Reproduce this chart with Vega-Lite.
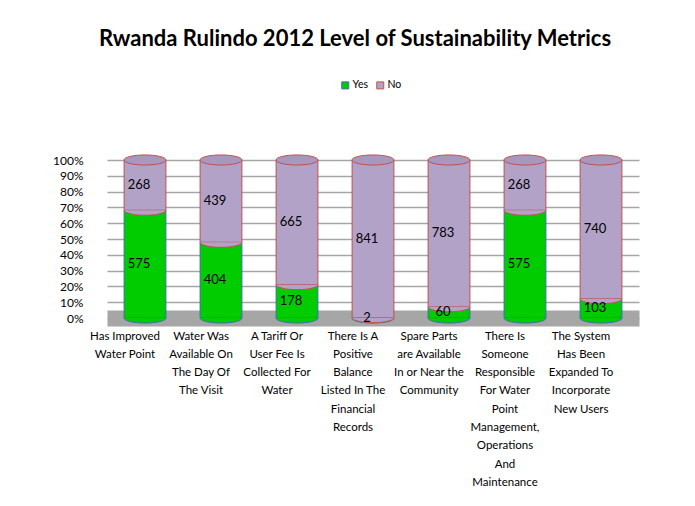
{
  "$schema": "https://vega.github.io/schema/vega-lite/v6.json",
  "width": 532,
  "height": 158,
  "autosize": "none",
  "padding": {"left": 107, "top": 160, "right": 56, "bottom": 188},
  "background": "white",
  "title": {
    "text": "Rwanda Rulindo 2012 Level of Sustainability  Metrics",
    "font": "Lato",
    "fontSize": 22,
    "fontWeight": "bold",
    "color": "#000000",
    "anchor": "middle",
    "dx": -18,
    "offset": 29
  },
  "data": {
    "values": [
      {"metric": "Has Improved|Water Point", "series": "Yes", "count": 575},
      {"metric": "Has Improved|Water Point", "series": "No", "count": 268},
      {"metric": "Water Was|Available On|The Day Of|The Visit", "series": "Yes", "count": 404},
      {"metric": "Water Was|Available On|The Day Of|The Visit", "series": "No", "count": 439},
      {"metric": "A Tariff Or|User Fee Is|Collected For|Water", "series": "Yes", "count": 178},
      {"metric": "A Tariff Or|User Fee Is|Collected For|Water", "series": "No", "count": 665},
      {"metric": "There Is A|Positive|Balance|Listed In The|Financial|Records", "series": "Yes", "count": 2},
      {"metric": "There Is A|Positive|Balance|Listed In The|Financial|Records", "series": "No", "count": 841},
      {"metric": "Spare Parts|are Available|In or Near the|Community", "series": "Yes", "count": 60},
      {"metric": "Spare Parts|are Available|In or Near the|Community", "series": "No", "count": 783},
      {"metric": "There Is|Someone|Responsible|For Water|Point|Management,|Operations|And|Maintenance", "series": "Yes", "count": 575},
      {"metric": "There Is|Someone|Responsible|For Water|Point|Management,|Operations|And|Maintenance", "series": "No", "count": 268},
      {"metric": "The System|Has Been|Expanded To|Incorporate|New Users", "series": "Yes", "count": 103},
      {"metric": "The System|Has Been|Expanded To|Incorporate|New Users", "series": "No", "count": 740}
    ]
  },
  "transform": [
    {"stack": "count", "groupby": ["metric"], "sort": [{"field": "series", "order": "descending"}], "offset": "normalize", "as": ["y0", "y1"]},
    {"calculate": "(datum.y0 + datum.y1) / 2", "as": "ymid"}
  ],
  "encoding": {
    "x": {
      "field": "metric",
      "type": "nominal",
      "sort": null,
      "scale": {"paddingInner": 0.45, "paddingOuter": 0.225},
      "axis": {
        "title": null,
        "labelAngle": 0,
        "labelExpr": "split(datum.label, '|')",
        "labelFont": "Lato",
        "labelFontSize": 11.5,
        "labelColor": "#000000",
        "labelLineHeight": 18.3,
        "labelBaseline": "top",
        "labelPadding": 12,
        "labelOffset": -20,
        "labelLimit": 200,
        "ticks": false,
        "domain": true,
        "domainColor": "#A6A6A6",
        "domainWidth": 16
      }
    }
  },
  "layer": [
    {
      "mark": {"type": "bar", "strokeWidth": 1},
      "encoding": {
        "y": {
          "field": "y0",
          "type": "quantitative",
          "scale": {"domain": [0, 1]},
          "title": null
        },
        "y2": {"field": "y1"},
        "color": {
          "field": "series",
          "type": "nominal",
          "scale": {"domain": ["Yes", "No"], "range": ["#00CC00", "#B3A2C7"]},
          "legend": {
            "title": null,
            "orient": "none",
            "legendX": 233,
            "legendY": -80,
            "direction": "horizontal",
            "symbolType": "square",
            "symbolSize": 49,
            "symbolStrokeWidth": 1,
            "labelFont": "Lato",
            "labelFontSize": 10.5,
            "labelColor": "#000000",
            "labelOffset": 2,
            "columnPadding": 6,
            "symbolOffset": 0
          }
        },
        "stroke": {
          "field": "series",
          "type": "nominal",
          "scale": {"domain": ["Yes", "No"], "range": ["#3A6FB0", "#C0504D"]},
          "legend": null
        }
      }
    },
    {
      "mark": {"type": "point", "filled": true, "strokeWidth": 1, "opacity": 1, "size": 1764, "shape": "M-1,0A1,0.24 0 0 0 1,0"},
      "encoding": {
        "y": {"field": "y0", "type": "quantitative", "title": null},
        "fill": {"field": "series", "type": "nominal", "scale": {"domain": ["Yes", "No"], "range": ["#00CC00", "#B3A2C7"]}, "legend": null},
        "stroke": {"field": "series", "type": "nominal", "legend": null}
      }
    },
    {
      "transform": [{"filter": "datum.series == 'No'"}],
      "mark": {"type": "point", "filled": true, "strokeWidth": 1, "opacity": 1, "size": 1764, "shape": "M-1,0A1,0.24 0 0 0 1,0A1,0.24 0 0 0 -1,0Z", "fill": "#A898C0", "stroke": "#C0504D"},
      "encoding": {
        "y": {"field": "y1", "type": "quantitative", "title": null}
      }
    },
    {
      "mark": {"type": "text", "font": "Lato", "fontSize": 13, "color": "#000000", "dx": -6},
      "encoding": {
        "y": {"field": "ymid", "type": "quantitative", "title": null},
        "text": {"field": "count", "type": "quantitative"}
      }
    }
  ],
  "config": {
    "view": {"stroke": null},
    "axisY": {
      "format": ".0%",
      "tickCount": 10,
      "labelOverlap": false,
      "labelFont": "Lato",
      "labelFontSize": 12,
      "labelColor": "#000000",
      "labelPadding": 24,
      "ticks": false,
      "domain": false,
      "grid": true,
      "gridColor": "#A6A6A6",
      "gridWidth": 1.5
    }
  }
}
